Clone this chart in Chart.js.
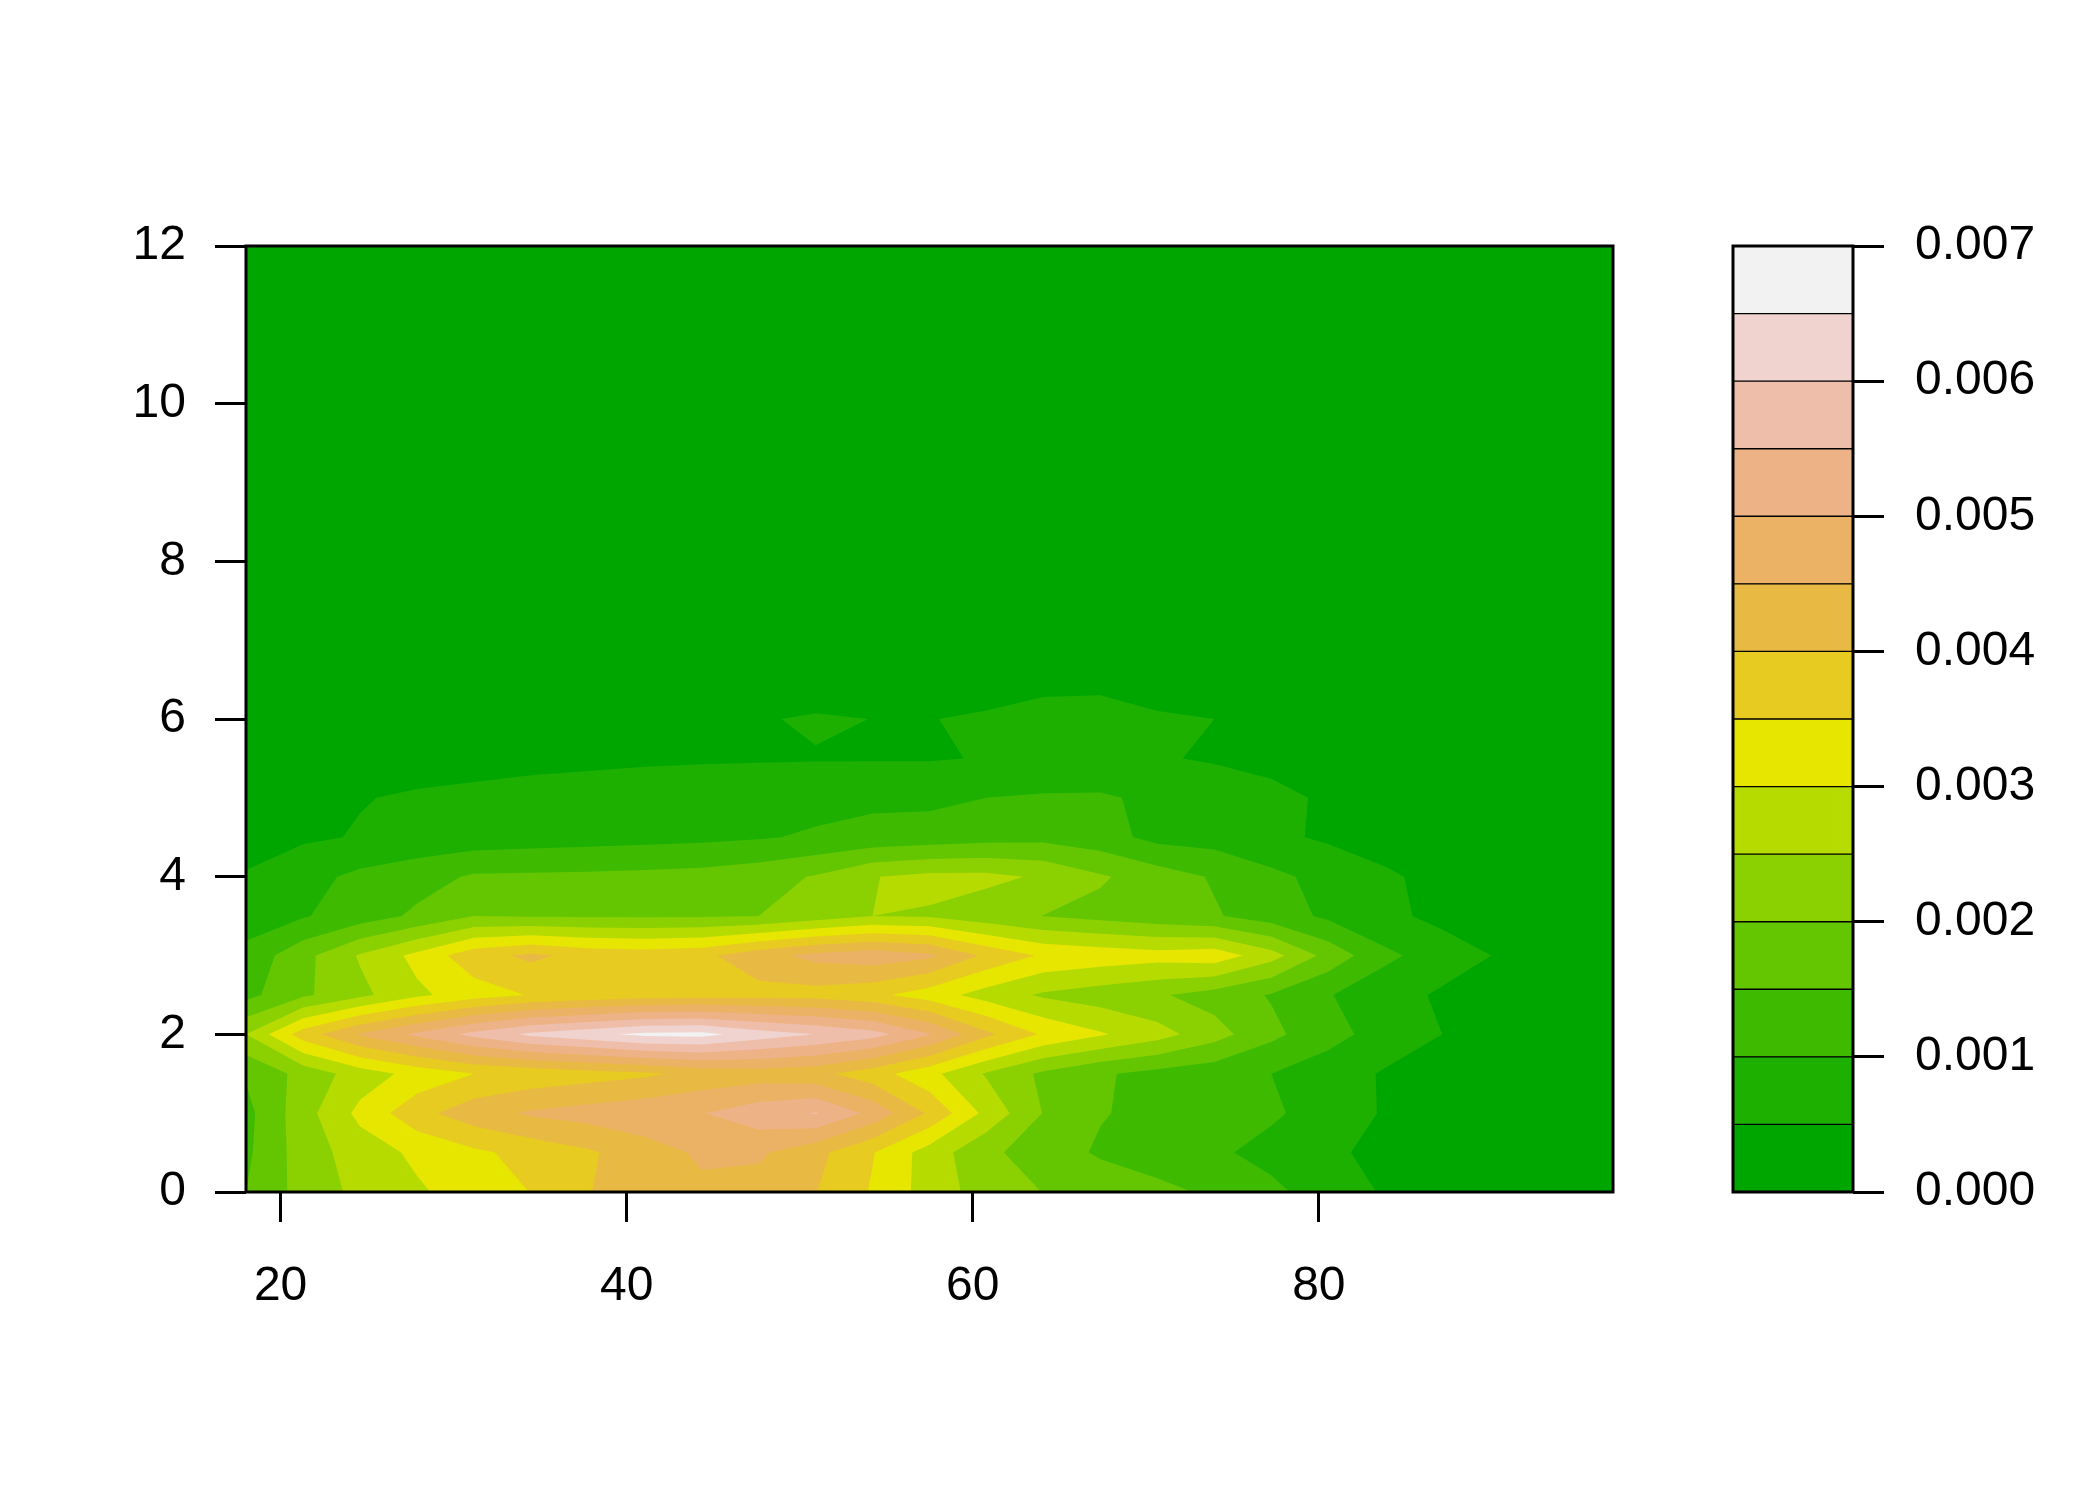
<!DOCTYPE html>
<html>
<head>
<meta charset="utf-8">
<script src="https://cdn.jsdelivr.net/npm/chart.js@4.4.1/dist/chart.umd.min.js"></script>
<style>
  html, body { margin: 0; padding: 0; background: #ffffff; }
  #wrap { position: relative; width: 2100px; height: 1500px; }
  #wrap canvas { position: absolute; left: 0; top: 0; }
</style>
</head>
<body>
<div id="wrap">
  <canvas id="contourChart" width="2100" height="1500"></canvas>
  <canvas id="keyChart" width="2100" height="1500"></canvas>
</div>
<script>
// density grid: densityRows[j][k] is the value at (xGrid[k], yGrid[j])
const xGrid = [18.00, 21.29, 24.58, 27.88, 31.17, 34.46, 37.75, 41.04, 44.33, 47.63, 50.92, 54.21,
               57.50, 60.79, 64.08, 67.38, 70.67, 73.96, 77.25, 80.54, 83.83, 87.13, 90.42, 93.71, 97.00];
const yGrid = [0, 0.5, 1, 1.5, 2, 2.5, 3, 3.5, 4, 4.5, 5, 5.5, 6, 6.5, 7, 7.5, 8, 8.5, 9, 9.5,
               10, 10.5, 11, 11.5, 12];

const densityRows = [
  [15e-4, 21.9e-4, 26.3e-4, 29.3e-4, 32.3e-4, 35.1e-4, 39.8e-4, 42.5e-4, 44e-4, 43e-4, 40.2e-4, 34.5e-4, 27.8e-4, 22.7e-4, 19.9e-4, 18e-4, 16.3e-4, 14.2e-4, 11.1e-4, 7.7e-4, 4.5e-4, 3e-4, 2e-4, 1e-4, 0.5e-4],
  [14e-4, 22.4e-4, 27.4e-4, 31e-4, 34e-4, 36.7e-4, 39.3e-4, 42.7e-4, 45.8e-4, 45.8e-4, 41.5e-4, 35.3e-4, 27.7e-4, 21.2e-4, 17.3e-4, 14.4e-4, 12.6e-4, 10.8e-4, 8.5e-4, 5.8e-4, 3.8e-4, 2.5e-4, 1.5e-4, 1e-4, 0.5e-4],
  [13.5e-4, 22.9e-4, 31.3e-4, 38.3e-4, 43e-4, 45.7e-4, 47.1e-4, 48.4e-4, 49.8e-4, 53e-4, 55.3e-4, 48.6e-4, 39.2e-4, 28.6e-4, 19.8e-4, 15.3e-4, 13.7e-4, 12.2e-4, 10.7e-4, 8e-4, 4.5e-4, 3e-4, 2e-4, 1e-4, 0.5e-4],
  [15.5e-4, 21.7e-4, 27.4e-4, 31.7e-4, 35e-4, 36.5e-4, 37.8e-4, 39.2e-4, 41.5e-4, 42.5e-4, 41.5e-4, 37.2e-4, 31.5e-4, 24.5e-4, 19e-4, 15.6e-4, 13.5e-4, 12e-4, 10e-4, 7.5e-4, 4.5e-4, 3e-4, 2e-4, 1e-4, 0.5e-4],
  [25e-4, 37.5e-4, 45.5e-4, 51e-4, 56.5e-4, 61e-4, 63.5e-4, 66.2e-4, 66.5e-4, 62.6e-4, 59.9e-4, 57e-4, 50.3e-4, 41.1e-4, 34.3e-4, 30.5e-4, 27e-4, 22e-4, 16.2e-4, 11.7e-4, 8e-4, 5e-4, 3e-4, 1.5e-4, 0.5e-4],
  [13.5e-4, 19.1e-4, 23.7e-4, 29e-4, 32.6e-4, 35.3e-4, 36.5e-4, 37.5e-4, 38e-4, 38.2e-4, 38e-4, 36.3e-4, 32.5e-4, 27.9e-4, 24.3e-4, 22.5e-4, 20.6e-4, 17.9e-4, 14.6e-4, 10.3e-4, 7e-4, 4.3e-4, 2.5e-4, 1.2e-4, 0.5e-4],
  [11.5e-4, 18.4e-4, 25.5e-4, 31.4e-4, 38.1e-4, 41e-4, 38.5e-4, 37.8e-4, 38.8e-4, 43.2e-4, 46.5e-4, 48e-4, 46e-4, 39e-4, 34.3e-4, 33e-4, 32e-4, 33e-4, 27e-4, 18.3e-4, 11.1e-4, 7.5e-4, 4.6e-4, 2e-4, 0.8e-4],
  [7.5e-4, 9.6e-4, 12.5e-4, 15.9e-4, 20e-4, 19.7e-4, 19.5e-4, 19.4e-4, 19.6e-4, 20e-4, 22.5e-4, 25e-4, 24.5e-4, 22e-4, 19.9e-4, 18.5e-4, 17e-4, 15.5e-4, 12.5e-4, 9.1e-4, 6.2e-4, 3.7e-4, 2.2e-4, 1e-4, 0.5e-4],
  [5.3e-4, 8.2e-4, 11.2e-4, 13.1e-4, 15.6e-4, 15.8e-4, 16e-4, 16.3e-4, 16.8e-4, 18e-4, 20.4e-4, 24.8e-4, 26.3e-4, 26.3e-4, 24.3e-4, 20.6e-4, 17.5e-4, 14.5e-4, 11.2e-4, 8.4e-4, 5.7e-4, 3.6e-4, 2e-4, 1e-4, 0.5e-4],
  [3.5e-4, 4.3e-4, 5.3e-4, 6.5e-4, 7.2e-4, 7.7e-4, 8.1e-4, 8.5e-4, 8.9e-4, 9.6e-4, 10.6e-4, 11.5e-4, 12.3e-4, 13.2e-4, 13.6e-4, 12e-4, 8.5e-4, 8e-4, 6e-4, 4.3e-4, 3e-4, 2e-4, 1.2e-4, 0.6e-4, 0.3e-4],
  [2.5e-4, 3.1e-4, 4.8e-4, 5.5e-4, 5.8e-4, 6.2e-4, 6.5e-4, 6.9e-4, 7.3e-4, 7.8e-4, 8.4e-4, 9e-4, 8.8e-4, 10e-4, 10.5e-4, 10.6e-4, 9e-4, 8e-4, 6.3e-4, 4.3e-4, 3e-4, 2e-4, 1e-4, 0.5e-4, 0.2e-4],
  [1.5e-4, 2e-4, 2.5e-4, 3.3e-4, 3.8e-4, 4.1e-4, 4.3e-4, 4.5e-4, 4.6e-4, 4.65e-4, 4.7e-4, 4.7e-4, 4.7e-4, 5.2e-4, 6.3e-4, 6.2e-4, 5.4e-4, 4.5e-4, 3.6e-4, 2.7e-4, 1.8e-4, 1.2e-4, 0.7e-4, 0.4e-4, 0.2e-4],
  [0.8e-4, 1.2e-4, 1.6e-4, 2.2e-4, 2.6e-4, 3e-4, 3.4e-4, 3.8e-4, 4.2e-4, 4.6e-4, 5.6e-4, 4.95e-4, 4.9e-4, 5.5e-4, 6.5e-4, 6.5e-4, 5.5e-4, 5e-4, 3.8e-4, 2.8e-4, 1.8e-4, 1.2e-4, 0.7e-4, 0.4e-4, 0.2e-4],
  [0.4e-4, 0.6e-4, 0.8e-4, 1.1e-4, 1.3e-4, 1.5e-4, 1.7e-4, 1.9e-4, 2e-4, 2e-4, 1.5e-4, 2.2e-4, 2.6e-4, 3.2e-4, 3.8e-4, 4e-4, 3e-4, 2.5e-4, 1.8e-4, 1.3e-4, 0.9e-4, 0.6e-4, 0.4e-4, 0.2e-4, 0.1e-4],
  [0.2e-4, 0.3e-4, 0.4e-4, 0.5e-4, 0.6e-4, 0.7e-4, 0.8e-4, 0.9e-4, 0.9e-4, 0.9e-4, 0.8e-4, 1e-4, 1.2e-4, 1.5e-4, 1.7e-4, 1.8e-4, 1.4e-4, 1.1e-4, 0.8e-4, 0.6e-4, 0.4e-4, 0.3e-4, 0.2e-4, 0.1e-4, 0.05e-4],
  [0, 0, 0, 0, 0, 0, 0, 0, 0, 0, 0, 0, 0, 0, 0, 0, 0, 0, 0, 0, 0, 0, 0, 0, 0],
  [0, 0, 0, 0, 0, 0, 0, 0, 0, 0, 0, 0, 0, 0, 0, 0, 0, 0, 0, 0, 0, 0, 0, 0, 0],
  [0, 0, 0, 0, 0, 0, 0, 0, 0, 0, 0, 0, 0, 0, 0, 0, 0, 0, 0, 0, 0, 0, 0, 0, 0],
  [0, 0, 0, 0, 0, 0, 0, 0, 0, 0, 0, 0, 0, 0, 0, 0, 0, 0, 0, 0, 0, 0, 0, 0, 0],
  [0, 0, 0, 0, 0, 0, 0, 0, 0, 0, 0, 0, 0, 0, 0, 0, 0, 0, 0, 0, 0, 0, 0, 0, 0],
  [0, 0, 0, 0, 0, 0, 0, 0, 0, 0, 0, 0, 0, 0, 0, 0, 0, 0, 0, 0, 0, 0, 0, 0, 0],
  [0, 0, 0, 0, 0, 0, 0, 0, 0, 0, 0, 0, 0, 0, 0, 0, 0, 0, 0, 0, 0, 0, 0, 0, 0],
  [0, 0, 0, 0, 0, 0, 0, 0, 0, 0, 0, 0, 0, 0, 0, 0, 0, 0, 0, 0, 0, 0, 0, 0, 0],
  [0, 0, 0, 0, 0, 0, 0, 0, 0, 0, 0, 0, 0, 0, 0, 0, 0, 0, 0, 0, 0, 0, 0, 0, 0],
  [0, 0, 0, 0, 0, 0, 0, 0, 0, 0, 0, 0, 0, 0, 0, 0, 0, 0, 0, 0, 0, 0, 0, 0, 0]
];

// contour levels and the terrain palette (one colour per band)
const levels = [0, 0.0005, 0.001, 0.0015, 0.002, 0.0025, 0.003, 0.0035, 0.004, 0.0045, 0.005, 0.0055, 0.006, 0.0065, 0.007];
const bandColors = ['#00A600', '#1DB000', '#3EBB00', '#63C600', '#8BD000', '#B6DB00', '#E6E600',
                    '#E7CB21', '#E9BA43', '#EBB165', '#EDB387', '#EFBEAA', '#F0D3CE', '#F2F2F2'];

const xTicks = [20, 40, 60, 80];
const yTicks = [0, 2, 4, 6, 8, 10, 12];
const keyTicks = [0, 0.001, 0.002, 0.003, 0.004, 0.005, 0.006, 0.007];

Chart.defaults.font.family = "'Liberation Sans', Arial, sans-serif";
Chart.defaults.color = '#000';

// keep the part of a cell polygon where z >= level (linear along edges)
function clipCell(pts, level) {
    const out = [];
    for (let i = 0; i < pts.length; i++) {
        const p = pts[i];
        const q = pts[(i + 1) % pts.length];
        const pin = p.z >= level;
        const qin = q.z >= level;
        if (pin) out.push(p);
        if (pin !== qin) {
            const t = (level - p.z) / (q.z - p.z);
            out.push({ x: p.x + t * (q.x - p.x), y: p.y + t * (q.y - p.y), z: level });
        }
    }
    return out;
}

const contourFill = {
    id: 'contourFill',
    beforeDatasetsDraw(chart) {
        const { ctx, chartArea: a, scales: { x, y } } = chart;
        ctx.save();
        ctx.beginPath();
        ctx.rect(a.left, a.top, a.width, a.height);
        ctx.clip();
        ctx.fillStyle = bandColors[0];
        ctx.fillRect(a.left, a.top, a.width, a.height);

        for (let b = 1; b < bandColors.length; b++) {
            ctx.beginPath();
            for (let j = 0; j < yGrid.length - 1; j++) {
                for (let k = 0; k < xGrid.length - 1; k++) {
                    const cell = [
                        { x: xGrid[k], y: yGrid[j], z: densityRows[j][k] },
                        { x: xGrid[k + 1], y: yGrid[j], z: densityRows[j][k + 1] },
                        { x: xGrid[k + 1], y: yGrid[j + 1], z: densityRows[j + 1][k + 1] },
                        { x: xGrid[k], y: yGrid[j + 1], z: densityRows[j + 1][k] }
                    ];
                    const poly = clipCell(cell, levels[b]);
                    if (poly.length < 3) continue;
                    poly.forEach((p, i) => {
                        const px = x.getPixelForValue(p.x);
                        const py = y.getPixelForValue(p.y);
                        if (i === 0) ctx.moveTo(px, py); else ctx.lineTo(px, py);
                    });
                    ctx.closePath();
                }
            }
            ctx.fillStyle = bandColors[b];
            ctx.fill();
        }
        ctx.restore();
    },
    afterDraw(chart) {
        const { ctx, chartArea: a } = chart;
        ctx.save();
        ctx.strokeStyle = '#000';
        ctx.lineWidth = 3;
        ctx.strokeRect(a.left, a.top, a.width, a.height);
        ctx.restore();
    }
};

const keyFrame = {
    id: 'keyFrame',
    afterDraw(chart) {
        const { ctx, chartArea: a } = chart;
        ctx.save();
        ctx.strokeStyle = '#000';
        ctx.lineWidth = 3;
        ctx.strokeRect(a.left, a.top, a.width, a.height);
        ctx.restore();
    }
};

const tickFont = { size: 48 };

new Chart(document.getElementById('contourChart'), {
    type: 'scatter',
    data: { datasets: [] },
    options: {
        responsive: false,
        animation: false,
        events: [],
        layout: { padding: { top: 246, right: 487, left: 0, bottom: 0 } },
        plugins: { legend: { display: false }, tooltip: { enabled: false } },
        scales: {
            x: {
                type: 'linear', min: 18, max: 97,
                afterBuildTicks: s => { s.ticks = xTicks.map(v => ({ value: v })); },
                afterFit: s => { s.height = 308; },
                border: { display: false },
                grid: { drawOnChartArea: false, tickLength: 30, tickWidth: 3, tickColor: '#000' },
                ticks: { font: tickFont, padding: 36, maxRotation: 0, autoSkip: false }
            },
            y: {
                type: 'linear', min: 0, max: 12,
                afterBuildTicks: s => { s.ticks = yTicks.map(v => ({ value: v })); },
                afterFit: s => { s.width = 246; },
                border: { display: false },
                grid: { drawOnChartArea: false, tickLength: 31, tickWidth: 3, tickColor: '#000' },
                ticks: { font: tickFont, padding: 29, autoSkip: false }
            }
        }
    },
    plugins: [contourFill]
});

new Chart(document.getElementById('keyChart'), {
    type: 'bar',
    data: {
        labels: ['key'],
        datasets: bandColors.map((c, i) => ({
            data: [[levels[i], levels[i + 1]]],
            backgroundColor: c,
            borderColor: '#000',
            borderWidth: 1,
            borderSkipped: false,
            grouped: false,
            barPercentage: 1,
            categoryPercentage: 1
        }))
    },
    options: {
        responsive: false,
        animation: false,
        events: [],
        layout: { padding: { top: 246, right: 0, left: 1733, bottom: 308 } },
        plugins: { legend: { display: false }, tooltip: { enabled: false } },
        scales: {
            x: { display: false },
            y: {
                position: 'right', min: 0, max: 0.007,
                afterBuildTicks: s => { s.ticks = keyTicks.map(v => ({ value: v })); },
                afterFit: s => { s.width = 247; },
                border: { display: false },
                grid: { drawOnChartArea: false, tickLength: 31, tickWidth: 3, tickColor: '#000' },
                ticks: { font: tickFont, padding: 31, autoSkip: false, callback: v => v.toFixed(3) }
            }
        }
    },
    plugins: [keyFrame]
});
</script>
</body>
</html>
